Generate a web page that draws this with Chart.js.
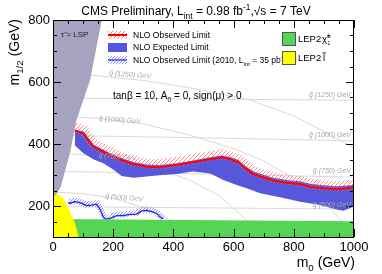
<!DOCTYPE html>
<html>
<head>
<meta charset="utf-8">
<script src="https://cdn.jsdelivr.net/npm/chart.js@4"></script>
<style>html,body{margin:0;padding:0;background:#fff}</style>
</head>
<body>
<canvas id="myChart" width="382" height="274"></canvas>
<script>
// tick labels
const xTicks = [0, 200, 400, 600, 800, 1000];
const yTicks = [200, 400, 600, 800];

// NLO observed limit (m0, m1/2)
const obsM0  = [73, 101, 117, 134, 166, 199, 233, 266, 311, 355, 411, 465, 522, 560, 588, 616, 638, 665, 688, 732, 776, 821, 854, 898, 943, 976, 1000];
const obsM12 = [443, 435, 413, 391, 375, 359, 346, 335, 327, 325, 332, 341, 351, 357, 351, 341, 322, 303, 295, 282, 275, 271, 262, 257, 254, 257, 260];

// NLO expected limit band
const bandUpM0  = [73, 101, 117, 134, 166, 199, 233, 266, 311, 355, 411, 465, 522, 560, 588, 616, 638, 665, 688, 732, 776, 821, 854, 898, 943, 976, 1000];
const bandUpM12 = [445, 440, 420, 398, 382, 366, 353, 342, 334, 332, 338, 347, 357, 363, 358, 348, 330, 312, 304, 291, 284, 280, 272, 267, 264, 266, 268];
const bandLoM0  = [73, 101, 134, 167, 200, 228, 267, 311, 355, 411, 465, 522, 566, 610, 644, 688, 754, 821, 887, 943, 964, 1000];
const bandLoM12 = [395, 370, 351, 338, 318, 297, 291, 295, 299, 303, 311, 305, 284, 268, 257, 241, 228, 214, 203, 189, 185, 198];

// 2010 observed limit
const obs10M0  = [50, 56, 73, 95, 112, 129, 145, 156, 167, 173, 189, 212, 234, 256, 278, 295, 311, 328, 345, 355, 366];
const obs10M12 = [211, 209, 214, 209, 201, 203, 206, 190, 165, 158, 160, 169, 169, 173, 174, 184, 186, 182, 176, 165, 158];

// stau LSP region, LEP2 slepton, LEP2 chargino
const stauM0  = [0, 10, 26, 56, 78, 123, 162, 0];
const stauM12 = [220, 235, 262, 370, 477, 606, 800, 800];
const slepM0  = [0, 0, 8, 18, 30, 45, 58, 67, 76, 81, 84];
const slepM12 = [100, 228, 236, 237, 230, 205, 180, 160, 135, 115, 100];
const charM0  = [0, 1000];
const charM12 = [158, 151];

// iso-mass lines
const sq1250M0 = [0, 150, 300, 450, 655, 800, 900, 1000];
const sq1250   = [628, 620, 605, 582, 542, 490, 440, 388];
const sq1000M0 = [0, 150, 300, 450, 600, 700, 800, 900, 960, 990];
const sq1000   = [490, 483, 465, 430, 385, 345, 290, 215, 150, 100];
const sq750M0  = [0, 150, 300, 450, 550, 620, 680, 700];
const sq750    = [372, 362, 335, 285, 235, 175, 120, 100];
const sq500M0  = [0, 100, 200, 300, 380, 430, 450];
const sq500    = [245, 240, 225, 195, 160, 120, 100];
const glM0     = [0, 500, 1000];
const gl1250   = [548, 545, 541];
const gl1000   = [428, 420, 410];
const gl750    = [312, 303, 293];
const gl500    = [198, 194, 190];

const FONT = "'Liberation Sans', Arial, Helvetica, sans-serif";
const ctx = document.getElementById('myChart');
const c2d = ctx.getContext('2d');

function pts(xs, ys) { return xs.map((x, i) => ({ x: x, y: ys[i] })); }

function hatch(color, size, lw) {
  const c = document.createElement('canvas');
  c.width = c.height = size;
  const g = c.getContext('2d');
  g.strokeStyle = color;
  g.lineWidth = lw;
  g.beginPath();
  g.moveTo(0, size); g.lineTo(size, 0);
  g.moveTo(-1, 1); g.lineTo(1, -1);
  g.moveTo(size - 1, size + 1); g.lineTo(size + 1, size - 1);
  g.stroke();
  return c2d.createPattern(c, 'repeat');
}
const redHatch = hatch('#ff6a6a', 4, 0.8);
const blueHatch = hatch('#6a6aff', 3, 0.7);

const bandPts = pts(bandUpM0, bandUpM12).concat(pts(bandLoM0, bandLoM12).reverse());

function iso(xs, ys) {
  return { data: pts(xs, ys), showLine: true, pointRadius: 0, borderColor: '#d9d9d9', borderWidth: 1, fill: false, order: 20 };
}

// rich text: parts = [[text, mode]]
function rich(g, x, y, parts, size, align) {
  const w = parts.reduce((s, p) => {
    g.font = (p[1] ? size * 0.7 : size) + 'px ' + FONT;
    return s + g.measureText(p[0]).width;
  }, 0);
  let cx = align === 'center' ? x - w / 2 : align === 'right' ? x - w : x;
  g.textAlign = 'left';
  g.textBaseline = 'alphabetic';
  parts.forEach(p => {
    const s = p[1] ? size * 0.7 : size;
    g.font = s + 'px ' + FONT;
    const dy = p[1] === 'sub' ? size * 0.3 : p[1] === 'sup' ? -size * 0.45 : 0;
    g.fillText(p[0], cx, y + dy);
    cx += g.measureText(p[0]).width;
  });
}

const decor = {
  id: 'decor',
  beforeDatasetDraw(chart, args) {
    const ds = chart.data.datasets[args.index];
    if (ds.shiftY) { chart.ctx.save(); chart.ctx.translate(0, ds.shiftY); }
  },
  afterDatasetDraw(chart, args) {
    const ds = chart.data.datasets[args.index];
    if (ds.shiftY) chart.ctx.restore();
  },
  afterDraw(chart) {
    const g = chart.ctx;
    const a = chart.chartArea;
    const xs = chart.scales.x, ys = chart.scales.y;
    g.save();
    // frame and ticks
    g.strokeStyle = '#000';
    g.lineWidth = 1;
    g.strokeRect(a.left + 0.5, a.top + 0.5, a.right - a.left - 1, a.bottom - a.top);
    g.beginPath();
    for (let v = 0; v <= 1000; v += 50) {
      const px = Math.round(xs.getPixelForValue(v)) + 0.5;
      const len = v % 200 === 0 ? 8 : 4;
      g.moveTo(px, a.bottom); g.lineTo(px, a.bottom - len);
      g.moveTo(px, a.top); g.lineTo(px, a.top + len);
    }
    for (let v = 100; v <= 800; v += 50) {
      const py = Math.round(ys.getPixelForValue(v)) + 0.5;
      const len = v % 200 === 0 ? 8 : 4;
      g.moveTo(a.left, py); g.lineTo(a.left + len, py);
      g.moveTo(a.right, py); g.lineTo(a.right - len, py);
    }
    g.stroke();

    // iso-mass labels
    g.fillStyle = '#a8a8a8';
    g.font = 'italic 7px ' + FONT;
    g.textBaseline = 'middle';
    const sqLab = [['q\u0303 (1250) GeV', 256, 623], ['q\u0303 (1000) GeV', 222, 477], ['q\u0303 (750) GeV', 214, 358], ['q\u0303 (500) GeV', 236, 226]];
    sqLab.forEach(l => {
      g.save();
      g.translate(xs.getPixelForValue(l[1]), ys.getPixelForValue(l[2]));
      g.rotate(0.07);
      g.textAlign = 'center';
      g.fillText(l[0], 0, 0);
      g.restore();
    });
    g.textAlign = 'right';
    [['g\u0303 (1250) GeV', 557], ['g\u0303 (1000) GeV', 429], ['g\u0303 (750) GeV', 313], ['g\u0303 (500) GeV', 203]].forEach(l => {
      g.fillText(l[0], a.right - 3, ys.getPixelForValue(l[1]));
    });

    // stau LSP text
    g.fillStyle = '#222';
    g.font = '8px ' + FONT;
    g.textAlign = 'left';
    g.fillText('\u03c4\u0303 = LSP', 61, 35);

    // legend
    g.fillStyle = redHatch;
    g.fillRect(108, 31, 19, 8);
    g.strokeStyle = '#ff0000'; g.lineWidth = 2;
    g.beginPath(); g.moveTo(108, 35); g.lineTo(127, 35); g.stroke();
    g.fillStyle = '#5555dd';
    g.fillRect(108, 43, 19, 9);
    g.fillStyle = blueHatch;
    g.fillRect(108, 56, 19, 8);
    g.strokeStyle = '#2020ff'; g.lineWidth = 1.2;
    g.beginPath(); g.moveTo(108, 60); g.lineTo(127, 60); g.stroke();
    g.fillStyle = '#000';
    rich(g, 133, 37.5, [['NLO Observed Limit', '']], 8.5, 'left');
    rich(g, 133, 50, [['NLO Expected Limit', '']], 8.5, 'left');
    rich(g, 133, 63, [['NLO Observed Limit (2010, L', ''], ['int', 'sub'], [' = 35 pb', ''], ['-1', 'sup'], [')', '']], 8.5, 'left');

    g.lineWidth = 1; g.strokeStyle = '#555';
    g.fillStyle = '#55d455';
    g.fillRect(282, 32, 13, 13); g.strokeRect(282.5, 32.5, 13, 13);
    g.fillStyle = '#ffff00';
    g.fillRect(282, 51, 13, 13); g.strokeRect(282.5, 51.5, 13, 13);
    g.fillStyle = '#000';
    rich(g, 298, 42, [['LEP2', '']], 9.5, 'left');
    rich(g, 322, 42, [['\u03c7\u0303', ''], ['\u00b1', 'sup']], 9.5, 'left');
    rich(g, 327.5, 43, [['1', 'sub']], 7, 'left');
    rich(g, 298, 61, [['LEP2', '']], 9.5, 'left');
    rich(g, 323, 61, [['l\u0303', '']], 9.5, 'left');

    // model text
    rich(g, 113, 99, [['tan\u03b2 = 10, A', ''], ['0', 'sub'], [' = 0, sign(\u03bc) > 0', '']], 10, 'left');

    // title
    rich(g, 196, 15, [['CMS Preliminary, L', ''], ['int', 'sub'], [' = 0.98 fb', ''], ['-1', 'sup'], [',\u221as = 7 TeV', '']], 12, 'center');

    // axis titles
    rich(g, 355, 267, [['m', ''], ['0', 'sub'], [' (GeV)', '']], 14, 'right');
    g.save();
    g.translate(19, 19);
    g.rotate(-Math.PI / 2);
    rich(g, 0, 0, [['m', ''], ['1/2', 'sub'], [' (GeV)', '']], 14, 'right');
    g.restore();
    g.restore();
  }
};

new Chart(ctx, {
  type: 'scatter',
  data: {
    datasets: [
      // LEP / LSP regions on top
      { data: pts(slepM0, slepM12), showLine: true, pointRadius: 0, borderWidth: 0, backgroundColor: '#ffff00', fill: 'shape', order: 0 },
      { data: pts(stauM0, stauM12), showLine: true, pointRadius: 0, borderWidth: 0, backgroundColor: '#a6a2bf', fill: 'shape', order: 1 },
      { data: pts(charM0, charM12), showLine: true, pointRadius: 0, borderWidth: 0, backgroundColor: '#55d455', fill: 'start', order: 3 },
      // 2010 observed
      { data: pts(obs10M0, obs10M12), showLine: true, pointRadius: 0, borderWidth: 1.3, borderColor: '#2020ff', fill: false, order: 4 },
      { data: pts(obs10M0, obs10M12), showLine: true, pointRadius: 0, borderWidth: 6, borderColor: blueHatch, fill: false, order: 5, shiftY: -1 },
      // 2011 observed
      { data: pts(obsM0, obsM12), showLine: true, pointRadius: 0, borderWidth: 2, borderColor: '#ff0000', fill: false, order: 6 },
      { data: pts(obsM0, obsM12), showLine: true, pointRadius: 0, borderWidth: 10, borderColor: redHatch, fill: false, order: 7, shiftY: -3 },
      // expected band
      { data: bandPts, showLine: true, pointRadius: 0, borderWidth: 0, backgroundColor: '#5757dc', fill: 'shape', order: 8 },
      iso(sq1250M0, sq1250), iso(sq1000M0, sq1000), iso(sq750M0, sq750), iso(sq500M0, sq500),
      iso(glM0, gl1250), iso(glM0, gl1000), iso(glM0, gl750), iso(glM0, gl500)
    ]
  },
  options: {
    responsive: false,
    animation: false,
    devicePixelRatio: 1,
    layout: { padding: { top: 20, right: 28, left: 0, bottom: 0 } },
    plugins: { legend: { display: false }, tooltip: { enabled: false } },
    scales: {
      x: {
        type: 'linear', min: 0, max: 1000,
        grid: { display: false, drawTicks: false },
        border: { display: false },
        ticks: { padding: 3, color: '#000', font: { family: FONT, size: 13 }, callback: v => String(v) },
        afterBuildTicks: s => { s.ticks = xTicks.map(v => ({ value: v })); },
        afterFit: s => { s.height = 37; }
      },
      y: {
        type: 'linear', min: 100, max: 800,
        grid: { display: false, drawTicks: false },
        border: { display: false },
        ticks: { padding: 3, color: '#000', font: { family: FONT, size: 13 }, callback: v => String(v) },
        afterBuildTicks: s => { s.ticks = yTicks.map(v => ({ value: v })); },
        afterFit: s => { s.width = 53; }
      }
    }
  },
  plugins: [decor]
});
</script>
</body>
</html>
